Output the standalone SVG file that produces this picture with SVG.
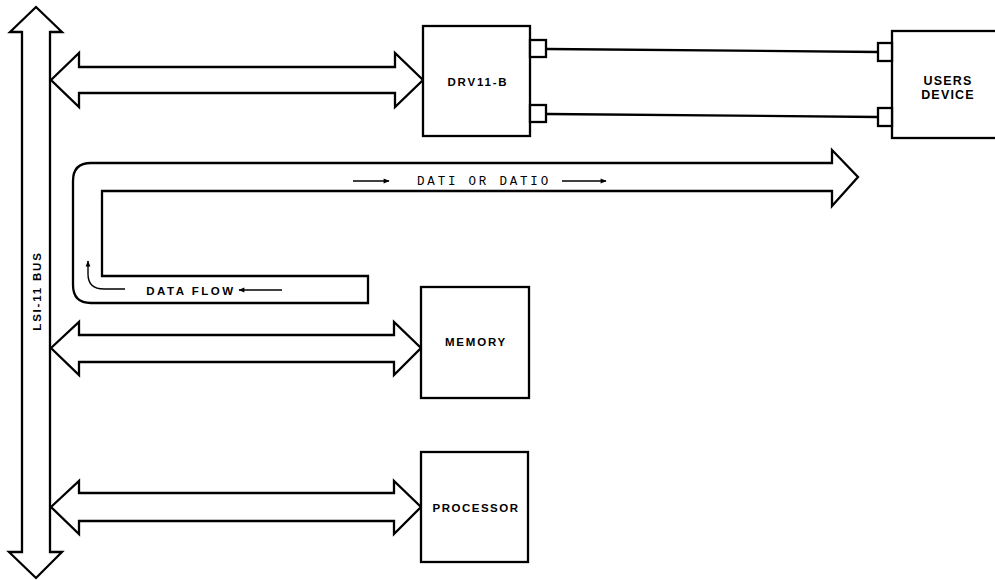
<svg xmlns="http://www.w3.org/2000/svg" width="995" height="580" viewBox="0 0 995 580">
<defs>
<style>
.s{fill:#fff;stroke:#000;stroke-width:2.3;stroke-linejoin:miter}
.b{fill:#fff;stroke:#000;stroke-width:2.3}
.l{fill:none;stroke:#000;stroke-width:2.3}
.t{font-family:"Liberation Sans",Arial,sans-serif;font-size:11.5px;font-weight:bold;fill:#000;text-anchor:middle;letter-spacing:1.8px}
</style>
<marker id="ah" viewBox="0 0 10 10" refX="9" refY="5" markerWidth="8" markerHeight="6" markerUnits="userSpaceOnUse" orient="auto">
<path d="M0,1 L10,5 L0,9 Z" fill="#000"/>
</marker>
</defs>
<rect width="995" height="580" fill="#fff"/>
<g id="connectors">
<path class="s" d="M36,7 L62,32 L50,32 L50,552 L62,552 L36,578 L9,552 L22,552 L22,32 L10,32 Z"/>
<path class="s" d="M51,80 L79,53 L79,67 L395,67 L395,53 L423,80 L395,107 L395,93 L79,93 L79,107 Z"/>
<path class="s" d="M51,348 L79,322 L79,335 L394,335 L394,322 L421,348 L394,375 L394,362 L79,362 L79,375 Z"/>
<path class="s" d="M51,507 L79,481 L79,493 L394,493 L394,481 L421,507 L394,534 L394,521 L79,521 L79,534 Z"/>
<path class="s" d="M832,150 L858,177 L832,206 L832,191 L102,191 L102,276 L368,276 L368,303 L91,303 Q73,303 73,285 L73,181 Q73,163 91,163 L832,163 Z"/>
<line class="l" x1="547" y1="49" x2="878" y2="52"/>
<line class="l" x1="547" y1="114" x2="878" y2="117"/>
<line x1="353" y1="181" x2="389" y2="181" stroke="#000" stroke-width="1.4" marker-end="url(#ah)"/>
<line x1="562" y1="181" x2="606" y2="181" stroke="#000" stroke-width="1.4" marker-end="url(#ah)"/>
<line x1="282" y1="290" x2="239" y2="290" stroke="#000" stroke-width="1.4" marker-end="url(#ah)"/>
<path d="M125,289 L104,289 Q88,289 88,274 L88,261" fill="none" stroke="#000" stroke-width="1.4" marker-end="url(#ah)"/>
<text class="t" x="37" y="291" transform="rotate(-90 37 291)" dy="4">LSI-11 BUS</text>
<text class="t" x="484" y="185" style="font-family:'Liberation Mono','Courier New',monospace;font-size:12.5px;font-weight:normal;letter-spacing:2.8px">DATI OR DATIO</text>
<text class="t" x="191" y="295" style="letter-spacing:2.5px">DATA FLOW</text>
</g>
<g id="drv11b">
<rect class="b" x="423" y="26" width="107" height="110"/>
<rect class="b" x="530" y="40" width="16" height="17"/>
<rect class="b" x="530" y="105" width="16" height="17"/>
<text class="t" x="478" y="86">DRV11-B</text>
</g>
<g id="users-device">
<rect class="b" x="892" y="31" width="110" height="107"/>
<rect class="b" x="878" y="43" width="14" height="18"/>
<rect class="b" x="878" y="108" width="14" height="18"/>
<text class="t" x="948" y="85" style="font-size:12.5px;letter-spacing:1.2px">USERS</text>
<text class="t" x="948" y="99" style="font-size:12.5px;letter-spacing:1.2px">DEVICE</text>
</g>
<g id="memory">
<rect class="b" x="421" y="287" width="108" height="111"/>
<text class="t" x="476" y="346">MEMORY</text>
</g>
<g id="processor">
<rect class="b" x="421" y="452" width="107" height="110"/>
<text class="t" x="476" y="512" style="letter-spacing:1.5px">PROCESSOR</text>
</g>
</svg>
